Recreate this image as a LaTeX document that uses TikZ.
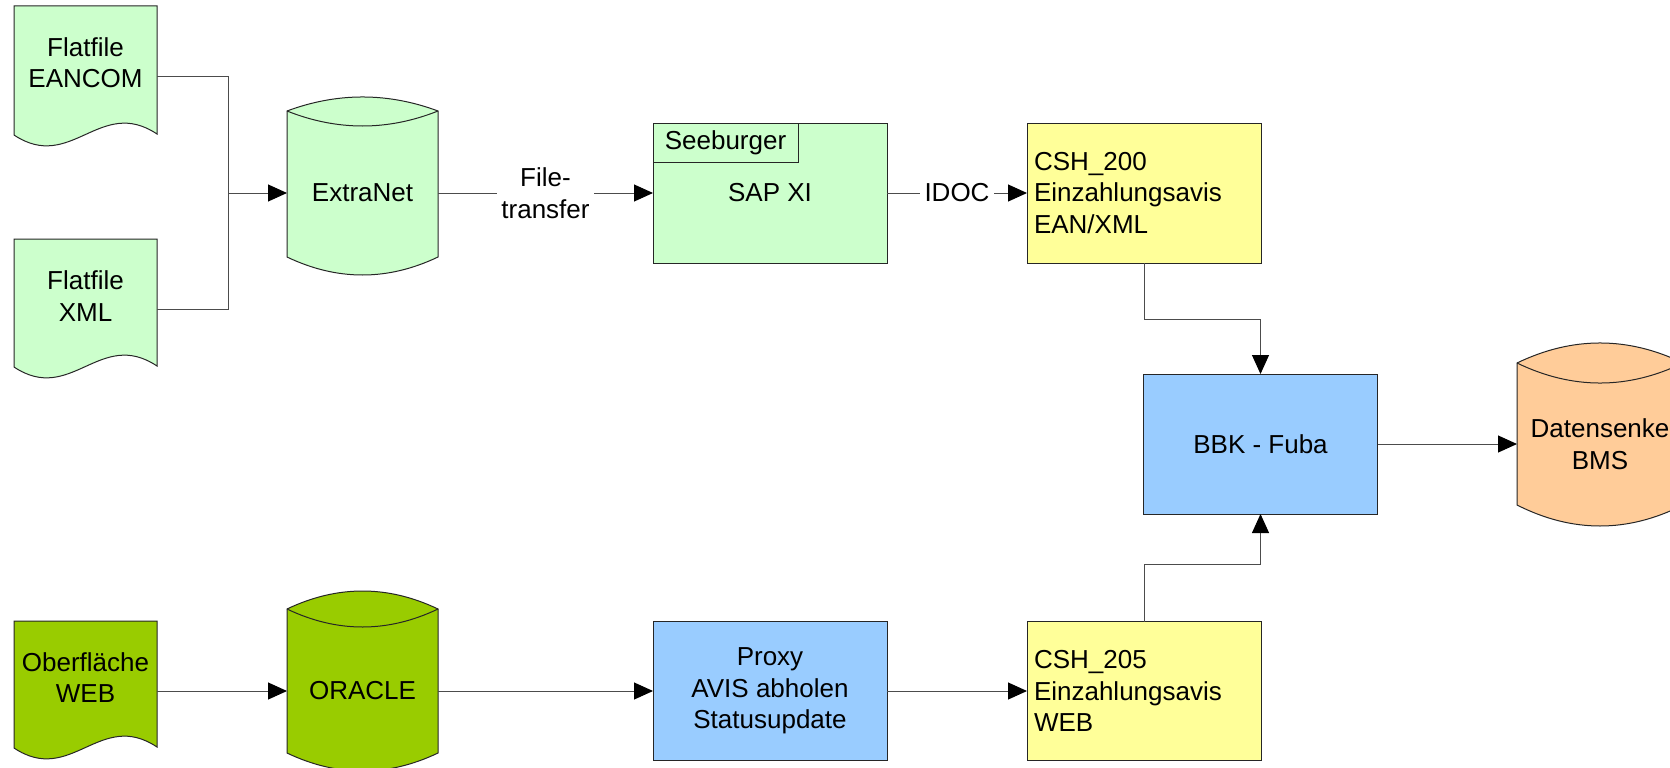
\documentclass[tikz,border=0pt]{standalone}
\usepackage{fontspec}
\setmainfont{Liberation Sans}
\usetikzlibrary{arrows.meta,positioning}
\definecolor{lgreen}{HTML}{CCFFCC}
\definecolor{dgreen}{HTML}{99CC00}
\definecolor{lyellow}{HTML}{FFFF99}
\definecolor{lblue}{HTML}{99CCFF}
\definecolor{lorange}{HTML}{FFCC99}
\tikzset{
  every node/.style={font=\fontsize{26}{31.5}\selectfont},
  outline/.style={draw=black!85, line width=1pt},
  txt/.style={inner sep=0pt, outer sep=0pt, align=center},
  boxc/.style={outline, inner sep=0pt, outer sep=0pt, minimum width=234pt, minimum height=140pt, align=center},
  boxl/.style={outline, inner sep=7pt, outer sep=0pt, text width=220pt, minimum height=140pt, align=left},
  conn/.style={draw=black!70, line width=1pt},
  arr/.style={conn, -{Triangle[length=19pt,width=17pt,color=black]}},
  lbl/.style={fill=white, inner xsep=4.5pt, inner ysep=2pt, align=center}
}
\begin{document}
\begin{tikzpicture}[x=1pt,y=-1pt]
\useasboundingbox (0,0) rectangle (1670,768);
\clip (0,0) rectangle (1670,768);
\fill[white] (0,0) rectangle (1670,768);

% documents
\path[outline, fill=lgreen] (14,6) -- (157,6) -- (157,134) .. controls (100,96) and (71,173) .. (14,135) -- cycle;
\node[txt, minimum width=143pt] (eancom) at (85.5,62.5) {Flatfile\\EANCOM};
\path[outline, fill=lgreen] (14,239) -- (157,239) -- (157,366) .. controls (100,328) and (71,405) .. (14,367) -- cycle;
\node[txt, minimum width=143pt] (xml) at (85.5,296) {Flatfile\\XML};
\path[outline, fill=dgreen] (14,621) -- (157,621) -- (157,747) .. controls (100,709) and (71,786) .. (14,748) -- cycle;
\node[txt, minimum width=143pt] (web) at (85.5,677.5) {Oberfläche\\WEB};

% cylinders (arcs with angled corners)
\path[outline, fill=lgreen] (287,111) .. controls (337.3,92.3) and (387.7,92.3) .. (438,111) -- (438,257) .. controls (387.7,281) and (337.3,281) .. (287,257) -- cycle;
\draw[outline] (287,111) .. controls (337.3,131) and (387.7,131) .. (438,111);
\node[txt, minimum width=151pt] (extranet) at (362.5,193) {ExtraNet};

\path[outline, fill=dgreen] (287,609) .. controls (337.3,585) and (387.7,585) .. (438,609) -- (438,753) .. controls (387.7,777) and (337.3,777) .. (287,753) -- cycle;
\draw[outline] (287,609) .. controls (337.3,633) and (387.7,633) .. (438,609);
\node[txt, minimum width=151pt] (oracle) at (362.5,691) {ORACLE};

\path[outline, fill=lorange] (1517,363) .. controls (1572.3,336.3) and (1627.7,336.3) .. (1683,363) -- (1683,505) .. controls (1627.7,533) and (1572.3,533) .. (1517,505) -- cycle;
\draw[outline] (1517,363) .. controls (1572.3,389.7) and (1627.7,389.7) .. (1683,363);
\node[txt, minimum width=166pt] (dat) at (1600,444) {Datensenke\\BMS};

% boxes
\node[boxc, fill=lgreen] (sap) at (770,193) {SAP XI};
\node[outline, fill=lgreen, inner sep=0pt, outer sep=0pt, minimum width=145pt, minimum height=39pt, anchor=north west] (seeb) at (sap.north west) {Seeburger};
\node[boxl, fill=lyellow] (c200) at (1144,193) {CSH\_200\\Einzahlungsavis\\EAN/XML};
\node[boxc, fill=lblue] (bbk) at (1260.5,444) {BBK - Fuba};
\node[boxc, fill=lblue, minimum height=139pt] (proxy) at (770,691) {Proxy\\AVIS abholen\\Statusupdate};
\node[boxl, fill=lyellow, minimum height=139pt] (c205) at (1144,691) {CSH\_205\\Einzahlungsavis\\WEB};

% connectors
\coordinate (join) at (228,193);
\draw[conn] ([yshift=-13.5pt]eancom.east) -| (join);
\draw[conn] ([yshift=-13pt]xml.east) -| (join);
\draw[arr] (join) -- (extranet.west);
\draw[arr] (extranet.east) -- node[lbl] {File-\\transfer} (sap.west);
\draw[arr] (sap.east) -- node[lbl] {IDOC} (c200.west);
\draw[arr] (c200.south) -- ++(0,56) -| (bbk.north);
\draw[arr] (c205.north) -- ++(0,-57) -| (bbk.south);
\draw[arr] (bbk.east) -- (dat.west);
\draw[arr] ([yshift=-13.5pt]web.east) -- (oracle.west);
\draw[arr] (oracle.east) -- (proxy.west);
\draw[arr] (proxy.east) -- (c205.west);
\end{tikzpicture}
\end{document}
